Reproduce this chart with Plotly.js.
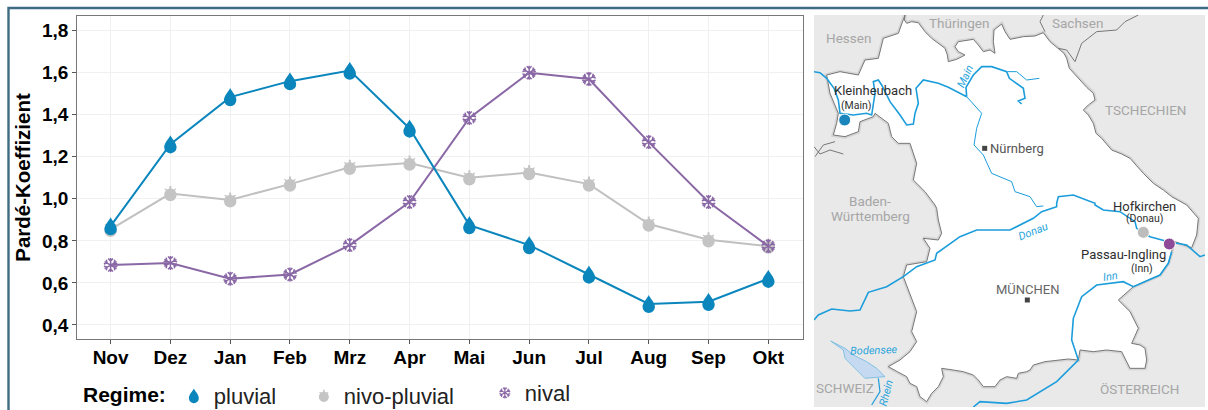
<!DOCTYPE html>
<html><head><meta charset="utf-8">
<script src="https://cdn.plot.ly/plotly-3.0.1.min.js"></script>
<style>html,body{margin:0;padding:0;background:#fff}#c{width:1208px;height:410px}</style>
</head><body><div id="c"></div>
<script>
const months=['Nov','Dez','Jan','Feb','Mrz','Apr','Mai','Jun','Jul','Aug','Sep','Okt'];
const pluvial=[0.87,1.26,1.484,1.56,1.61,1.335,0.875,0.78,0.64,0.50,0.51,0.62];
const nivoPluvial=[0.855,1.025,0.995,1.07,1.15,1.17,1.10,1.125,1.07,0.88,0.805,0.775];
const nival=[0.685,0.695,0.62,0.64,0.78,0.985,1.385,1.60,1.57,1.27,0.985,0.775];
const yTicks=[0.4,0.6,0.8,1.0,1.2,1.4,1.6,1.8];
const yTickText=['0,4','0,6','0,8','1,0','1,2','1,4','1,6','1,8'];

// Map outlines, in map units (upper sheet y, lower sheet y + 615)
const s=p=>p.map(([x,y])=>[x,y+615]);
const bavariaNE=[[285,45],[283,60],[290,70],[305,65],[325,68],[345,95],[365,115],[385,130],[405,145],[412,165],[415,185],[440,178],[465,165],[445,155],[435,140],[445,125],[470,122],[490,118],[505,135],[520,155],[540,150],[555,160],[550,125],[552,90],[575,72],[585,95],[600,118],[640,110],[675,108],[700,98],[720,125],[745,145],[762,160],[770,175],[778,205],[810,240],[830,262],[850,280],[855,300],[835,315],[820,330],[835,345],[850,370],[858,400],[875,415],[905,450],[935,462],[960,475],[985,505],[1000,520],[1030,550],[1060,570],[1085,590],[1130,615]];
const bavariaS=[[1165,40],[1160,90],[1145,128],[1090,108],[1085,140],[1075,175],[1050,210],[970,245],[925,285],[945,305],[960,320],[985,370],[965,415],[990,420],[1005,430],[1010,465],[1005,490],[960,490],[935,440],[890,435],[850,440],[810,435],[805,465],[775,462],[740,465],[705,470],[670,480],[660,495],[650,500],[625,505],[620,520],[590,515],[570,525],[555,545],[520,545],[505,525],[490,510],[460,500],[430,495],[395,490],[400,515],[385,545],[365,565],[350,590],[330,575],[320,545],[300,535],[290,515],[262,500],[235,485],[270,465],[300,440],[320,410],[305,380],[320,320],[300,265],[280,215],[290,180],[350,170],[360,130],[340,100],[385,105],[395,85],[385,45],[380,10],[375,0]];
const bavariaNW=[[345,575],[310,540],[320,490],[300,430],[265,430],[245,410],[235,370],[195,340],[190,350],[150,365],[145,395],[105,410],[70,405],[80,370],[85,340],[60,280],[50,225],[90,215],[145,225],[165,180],[205,175],[220,115],[265,100],[285,45]];
const borderHeBw=[[75,425],[40,435],[15,470]];
const borderThSn=[[700,45],[690,65],[705,95]];
const borderSnCz=[[985,45],[945,65],[920,90],[860,95],[815,130],[795,185],[770,150],[745,145]];
const borderBwCh=[[12,440],[30,462],[60,450],[100,462]];
const riverMain=[[12,215],[30,218],[50,235],[72,265],[85,300],[90,340],[130,345],[170,340],[185,345],[190,310],[195,280],[190,245],[205,240],[215,255],[240,305],[270,345],[290,375],[310,372],[315,340],[325,310],[318,265],[340,240],[385,250],[415,262],[470,290],[468,262],[490,225],[515,200],[545,200],[590,215],[598,235],[640,265],[645,295],[625,303],[635,312]];
const riverMainArm=[[592,215],[620,215],[650,240],[688,235]];
const riverRegnitz=[[470,290],[515,340],[500,385],[492,435],[520,465],[545,520],[605,545],[615,575],[660,590],[680,620],[700,618]];
const riverDonau=[...s([[12,345],[25,330],[65,312],[120,318],[150,315],[175,262],[230,245],[280,215],[320,185],[375,165],[380,145],[450,95],[500,75],[600,75],[670,40],[695,20],[740,5]]),[740,610],[745,590],[790,585],[855,610],...s([[855,0],[880,15],[930,20],[975,50],[980,70],[1020,95],[1075,110],[1130,120],[1170,155],[1185,150]])];
const riverInn=s([[1085,140],[1075,175],[1050,210],[970,245],[940,230],[860,240],[815,275],[790,340],[785,405],[805,465],[740,530],[650,585],[590,595],[510,590],[490,606]]);
const riverRhein=s([[205,520],[210,560],[185,600]]);
const lakeBodensee=s([[62,408],[100,435],[105,460],[165,520],[225,515],[200,490],[170,470],[130,450],[105,430],[62,408]]);
const stationNames=['Kleinheubach','Hofkirchen','Passau-Ingling'];
const stationX=[104,1000,1078], stationY=[360,697,732];
const stationColors=['#1a84bd','#bdbdbd','#8f4a97'];
const cityX=[524,652], cityY=[445,900];

const xs=p=>p.map(a=>a[0]), ys=p=>p.map(a=>a[1]);
const mapLine=(p,c,w,extra)=>Object.assign({x:xs(p),y:ys(p),xaxis:'x2',yaxis:'y2',mode:'lines',line:{color:c,width:w},showlegend:false,hoverinfo:'skip'},extra||{});
const bav=[...bavariaNE,...s(bavariaS),...bavariaNW];
const RIVER='#1c9ddb';
const traces=[
 {name:'nivo-pluvial',x:months,y:nivoPluvial,mode:'lines+markers',line:{color:'#c0c0c0',width:2},marker:{color:'#c4c4c4',size:12,line:{width:0}},legendrank:2,legendwidth:136},
 {name:'nival',x:months,y:nival,mode:'lines+markers',line:{color:'#8a68a6',width:2},marker:{color:'#8a68a6',size:12,line:{color:'#8a68a6',width:1.5}},legendrank:3,legendwidth:60},
 {name:'pluvial',x:months,y:pluvial,mode:'lines+markers',line:{color:'#0a86bd',width:2},marker:{color:'#0a86bd',size:12,line:{width:0}},legendrank:1,legendwidth:85},
 mapLine(bav,'#d4d4d4',4),
 mapLine(bav,'#777',1,{fill:'toself',fillcolor:'#fff'}),
 mapLine(borderHeBw,'#777',1),mapLine(borderThSn,'#777',1),mapLine(borderSnCz,'#777',1),mapLine(borderBwCh,'#777',1),
 mapLine(lakeBodensee,'#6bb9e0',0.8,{fill:'toself',fillcolor:'#c5d9f0'}),
 mapLine(riverMain,RIVER,1.6),mapLine(riverMainArm,RIVER,1),mapLine(riverRegnitz,RIVER,1),
 mapLine(riverDonau,RIVER,1.6),mapLine(riverInn,RIVER,1.6),mapLine(riverRhein,RIVER,1.2),
 {x:cityX,y:cityY,xaxis:'x2',yaxis:'y2',mode:'markers',marker:{symbol:'square',size:5,color:'#444'},showlegend:false,hoverinfo:'skip'},
 {x:stationX,y:stationY,text:stationNames,xaxis:'x2',yaxis:'y2',mode:'markers',marker:{size:12,color:stationColors,line:{color:'#fff',width:1}},showlegend:false,hoverinfo:'skip'}
];

const W=1208,H=410;
const lab=(t,x,y,size,color,rot)=>({text:t,x,y,xref:'x2',yref:'y2',showarrow:false,xanchor:'center',yanchor:'middle',textangle:rot||0,font:{family:'Roboto, sans-serif',size,color}});
const G='#a6a6a6',D='#2e2e2e',B='#2aa5dc';
const annotations=[
 lab('Hessen',116,115,13.5,G),lab('Thüringen',448,68,13.5,G),lab('Sachsen',802,68,13.5,G),lab('TSCHECHIEN',1005,330,13.5,G),
 lab('Baden-',180,602,13.5,G),lab('Württemberg',180,647,13.5,G),lab('SCHWEIZ',105,1163,13.5,G),lab('ÖSTERREICH',988,1168,13.5,G),
 lab('Kleinheubach',188,272,13,D),lab('(Main)',138,315,10.5,D),lab('Nürnberg',622,444,13,'#555'),lab('MÜNCHEN',652,867,13,'#666'),
 lab('Hofkirchen',1003,618,13,D),lab('(Donau)',1003,656,10.5,D),lab('Passau-Ingling',940,762,13,D),lab('(Inn)',995,805,10.5,D),
 lab('<i>Main</i>',465,228,11,B,-65),lab('<i>Donau</i>',670,695,11,B,-22),lab('<i>Inn</i>',902,830,11,B,-8),lab('<i>Bodensee</i>',190,1050,11,B,-2),lab('<i>Rhein</i>',228,1180,11,B,-75)
];
const layout={
 width:W,height:H,autosize:false,margin:{l:0,r:0,t:0,b:0,autoexpand:false},paper_bgcolor:'#fff',plot_bgcolor:'#fff',
 font:{family:'"Liberation Sans", Arial, sans-serif',color:'#000'},
 xaxis:{domain:[77.3/W,803/W],range:[-0.557,11.58],type:'category',categoryorder:'array',categoryarray:months,showgrid:true,gridcolor:'#f0f0f0',gridwidth:1,
   showline:true,mirror:true,linecolor:'#777',linewidth:1.2,ticks:'outside',ticklen:4,tickcolor:'#555',tickfont:{size:19,color:'#000',weight:'bold'},ticklabelstandoff:-3,zeroline:false,fixedrange:true},
 yaxis:{domain:[1-339/H,1-16/H],range:[0.333,1.87],tickvals:yTicks,ticktext:yTickText,showgrid:true,gridcolor:'#f0f0f0',gridwidth:1,
   showline:true,mirror:true,linecolor:'#777',linewidth:1.2,ticks:'outside',ticklen:4,tickcolor:'#555',tickfont:{size:19,color:'#000',weight:'bold'},zeroline:false,fixedrange:true,
   title:{text:'Pardé-Koeffizient',font:{size:20.5,color:'#000',weight:'bold'},standoff:5}},
 xaxis2:{domain:[814/W,1205/W],range:[12,1185],visible:false,fixedrange:true,anchor:'y2'},
 yaxis2:{domain:[1-407/H,1-15/H],range:[1221,45],visible:false,fixedrange:true,anchor:'x2'},
 showlegend:true,
 legend:{orientation:'h',x:81/W,xanchor:'left',y:1-396/H,yanchor:'middle',bgcolor:'rgba(0,0,0,0)',font:{size:22,color:'#222'},
   title:{text:'Regime:',side:'left',font:{size:21,color:'#000',weight:'bold'}},itemwidth:30,traceorder:'normal'},
 annotations,
 shapes:[
  {type:'rect',xref:'x2',yref:'y2',x0:12,x1:1185,y0:45,y1:1221,fillcolor:'#e9e9e9',line:{width:0},layer:'below'},
  {type:'path',xref:'paper',yref:'paper',path:`M ${8.5/W} 0 L ${8.5/W} ${1-8/H} L 1 ${1-8/H}`,line:{color:'#3f6b84',width:2.4},layer:'above'}
 ]
};

// Marker outlines: drop, snow-capped ball, snowflake
const DROP='M0,-9 C1.2,-6 6.2,-1.5 6.2,3 A6.2,6.2 0 1 1 -6.2,3 C-6.2,-1.5 -1.2,-6 0,-9 Z';
const NIVO='M6.2,1.5 A6.2,6.2 0 1 1 -6.2,1.5 C-6.2,-0.5 -5.5,-2 -4.5,-3.2 L-6,-4.5 L-5,-5.2 L-3.4,-4.2 L-1,-5 L-1,-7.5 L1,-7.5 L1,-5 L3.4,-4.2 L5,-5.2 L6,-4.5 L4.5,-3.2 C5.5,-2 6.2,-0.5 6.2,1.5 Z';
let FLAKE='';
for(const a of [90,30,150,270,210,330]){const r=a*Math.PI/180,u=(d,t)=>[(d*Math.cos(r)-t*Math.sin(r)).toFixed(2),(d*Math.sin(r)+t*Math.cos(r)).toFixed(2)].join(',');
 FLAKE+=`M0,0L${u(7,0)}M${u(4,0)}L${u(6.4,2.4)}M${u(4,0)}L${u(6.4,-2.4)}`;}
const GLYPH={'pluvial':DROP,'nivo-pluvial':NIVO,'nival':FLAKE};
const gd=document.getElementById('c');
Plotly.newPlot(gd,traces,layout,{staticPlot:true,displayModeBar:false}).then(()=>{
 gd.querySelectorAll('.scatterlayer .trace').forEach(t=>{
  const name=t.__data__&&t.__data__[0]&&t.__data__[0].trace.name;
  if(GLYPH[name]) t.querySelectorAll('.points path').forEach(p=>p.setAttribute('d',GLYPH[name]));
 });
 gd.querySelectorAll('.legend .traces').forEach(t=>{
  const name=t.__data__&&t.__data__[0]&&t.__data__[0].trace.name;
  t.querySelectorAll('.legendlines path').forEach(p=>p.remove());
  t.querySelectorAll('.legendpoints path').forEach(p=>{p.setAttribute('d',GLYPH[name]);
    const tr=p.getAttribute('transform')||'';p.setAttribute('transform',tr+' scale(0.8)');});
  if(name==='nival'){const tr=t.getAttribute('transform')||'';t.setAttribute('transform',tr+' translate(0,-3)');}
 });
});
</script></body></html>
